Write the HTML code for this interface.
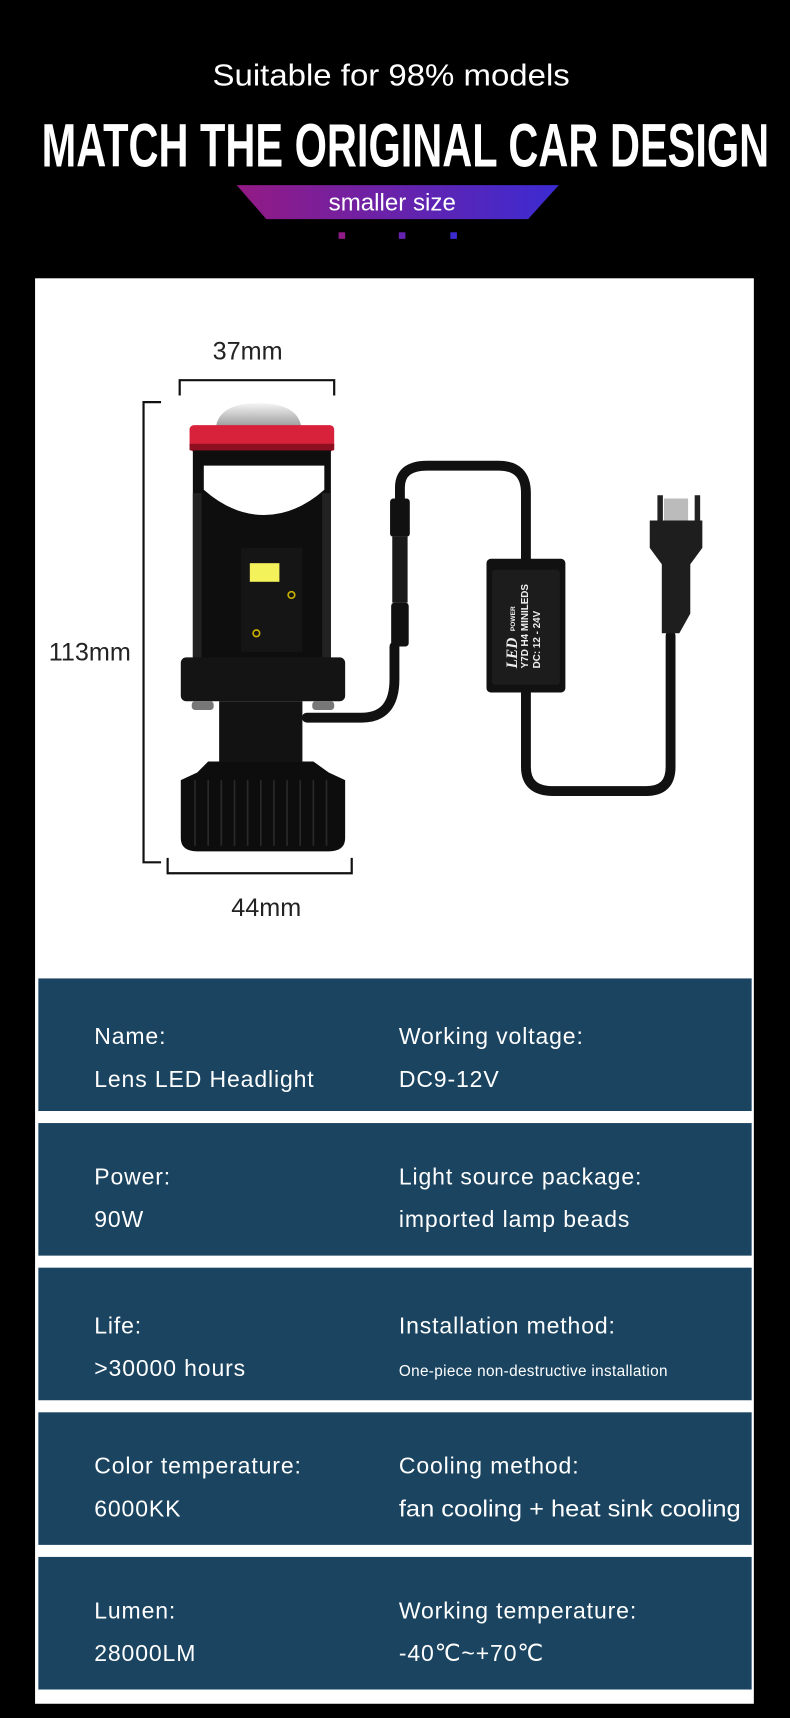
<!DOCTYPE html>
<html><head><meta charset="utf-8"><style>
html,body{margin:0;padding:0;background:#000;}
svg{display:block;}
</style></head><body>
<svg width="790" height="1718" viewBox="0 0 721 1568" xmlns="http://www.w3.org/2000/svg" preserveAspectRatio="none">
<defs>
<linearGradient id="bg" x1="0" x2="1" y1="0" y2="0">
<stop offset="0" stop-color="#931a84"/><stop offset="1" stop-color="#3b2bd2"/>
</linearGradient>
<linearGradient id="lens" x1="0" x2="0" y1="0" y2="1">
<stop offset="0" stop-color="#f4f4f4"/><stop offset="1" stop-color="#9a9a9a"/>
</linearGradient>
</defs>
<rect width="721" height="1568" fill="#000"/>
<text x="357" y="78" fill="#fff" font-family="Liberation Sans, sans-serif" font-size="28" text-anchor="middle" font-weight="300" textLength="326" lengthAdjust="spacingAndGlyphs">Suitable for 98% models</text>
<text x="38" y="152" fill="#fff" font-family="Liberation Sans, sans-serif" font-weight="bold" font-size="56" textLength="664" lengthAdjust="spacingAndGlyphs">MATCH THE ORIGINAL CAR DESIGN</text>
<polygon points="216,169 510,169 482,200 243,200" fill="url(#bg)"/>
<text x="358" y="192" fill="#fff" font-family="Liberation Sans, sans-serif" font-size="22" text-anchor="middle">smaller size</text>
<rect x="309" y="212" width="6" height="6" fill="#8f1b86"/>
<rect x="364" y="212" width="6" height="6" fill="#6623b0"/>
<rect x="411" y="212" width="6" height="6" fill="#3d2bd2"/>

<rect x="32" y="254" width="656" height="1301" fill="#fff"/>

<!-- dimension lines -->
<g stroke="#111" stroke-width="2" fill="none">
<polyline points="164,361 164,347 305,347 305,361"/>
<polyline points="147,367 131,367 131,787 147,787"/>
<polyline points="153,783 153,797 321,797 321,783"/>
</g>
<g font-family="Liberation Sans, sans-serif" font-size="23" fill="#222" text-anchor="middle">
<text x="226" y="328">37mm</text>
<text x="82" y="603">113mm</text>
<text x="243" y="836">44mm</text>
</g>

<!-- cable -->
<g stroke="#111" stroke-width="9" fill="none" stroke-linecap="round">
<path d="M280,655 L330,655 Q360,655 360,620 L360,590"/>
<path d="M365,460 L365,445 Q365,425 390,425 L455,425 Q480,425 480,450 L480,512"/>
<path d="M480,630 L480,700 Q480,722 505,722 L590,722 Q612,722 612,700 L612,580"/>
</g>
<rect x="356" y="455" width="18" height="35" rx="3" fill="#111"/>
<rect x="358" y="490" width="14" height="60" fill="#1a1a1a"/>
<rect x="357" y="550" width="16" height="40" rx="3" fill="#111"/>
<!-- control box -->
<rect x="444" y="510" width="72" height="122" rx="4" fill="#111"/>
<rect x="449" y="520" width="62" height="105" rx="3" fill="#1c1c1c"/>
<g fill="#eee" font-family="Liberation Sans, sans-serif" font-weight="bold" font-size="9" transform="rotate(-90 480 570)">
<text x="440" y="562" font-style="italic" font-family="Liberation Serif, serif" font-size="14">LED</text>
<text x="474" y="560" font-size="6">POWER</text>
<text x="440" y="572">Y7D  H4 MINILEDS</text>
<text x="440" y="583">DC: 12 - 24V</text>
</g>
<!-- plug -->
<rect x="600" y="452" width="5" height="25" fill="#222"/>
<rect x="634" y="452" width="5" height="25" fill="#222"/>
<rect x="606" y="455" width="22" height="22" fill="#bbb"/>
<polygon points="593,475 641,475 641,500 630,515 630,560 620,578 604,578 604,515 593,500" fill="#1e1e1e"/>

<!-- lamp -->
<path d="M197,390 Q200,368 236,368 Q272,368 275,390 Z" fill="url(#lens)"/>
<rect x="173" y="388" width="132" height="24" rx="4" fill="#d8223c"/>
<rect x="173" y="405" width="132" height="6" fill="#8e1020"/>
<rect x="176" y="411" width="126" height="192" fill="#0e0e0e"/>
<path d="M186,425 L296,425 L296,447 Q270,470 241,470 Q212,470 186,447 Z" fill="#fff"/>
<rect x="176" y="450" width="8" height="150" fill="#222"/>
<rect x="294" y="450" width="8" height="150" fill="#222"/>
<rect x="220" y="500" width="56" height="95" fill="#151515"/>
<rect x="228" y="514" width="27" height="17" fill="#f3f25a"/>
<circle cx="266" cy="543" r="3" fill="none" stroke="#c8b000" stroke-width="1.5"/>
<circle cx="234" cy="578" r="3" fill="none" stroke="#c8b000" stroke-width="1.5"/>
<rect x="165" y="600" width="150" height="40" rx="5" fill="#141414"/>
<rect x="175" y="640" width="20" height="8" rx="3" fill="#777"/>
<rect x="285" y="640" width="20" height="8" rx="3" fill="#777"/>
<rect x="200" y="640" width="76" height="55" fill="#121212"/>
<path d="M190,695 L286,695 L300,705 L300,705 L315,712 L315,765 Q315,777 300,777 L180,777 Q165,777 165,765 L165,712 L180,705 Z" fill="#0d0d0d"/>
<g stroke="#2a2a2a" stroke-width="1.5">
<line x1="178" y1="712" x2="178" y2="772"/><line x1="190" y1="712" x2="190" y2="772"/>
<line x1="202" y1="712" x2="202" y2="772"/><line x1="214" y1="712" x2="214" y2="772"/>
<line x1="226" y1="712" x2="226" y2="772"/><line x1="238" y1="712" x2="238" y2="772"/>
<line x1="250" y1="712" x2="250" y2="772"/><line x1="262" y1="712" x2="262" y2="772"/>
<line x1="274" y1="712" x2="274" y2="772"/><line x1="286" y1="712" x2="286" y2="772"/>
<line x1="298" y1="712" x2="298" y2="772"/>
</g>

<!-- table -->
<g fill="#1a4460">
<rect x="35" y="893" width="651" height="121"/>
<rect x="35" y="1025" width="651" height="121"/>
<rect x="35" y="1157" width="651" height="121"/>
<rect x="35" y="1289" width="651" height="121"/>
<rect x="35" y="1421" width="651" height="121"/>
</g>
<g fill="#fff" font-family="Liberation Sans, sans-serif" font-size="21" letter-spacing="0.8">
<text x="86" y="953">Name:</text><text x="364" y="953">Working voltage:</text>
<text x="86" y="992">Lens LED Headlight</text><text x="364" y="992">DC9-12V</text>
<text x="86" y="1081">Power:</text><text x="364" y="1081">Light source package:</text>
<text x="86" y="1120">90W</text><text x="364" y="1120">imported lamp beads</text>
<text x="86" y="1217">Life:</text><text x="364" y="1217">Installation method:</text>
<text x="86" y="1256">&gt;30000 hours</text><text x="364" y="1256" font-size="14" letter-spacing="0.3">One-piece non-destructive installation</text>
<text x="86" y="1345">Color temperature:</text><text x="364" y="1345">Cooling method:</text>
<text x="86" y="1384">6000KK</text><text x="364" y="1384" letter-spacing="0" textLength="312" lengthAdjust="spacingAndGlyphs">fan cooling + heat sink cooling</text>
<text x="86" y="1477">Lumen:</text><text x="364" y="1477">Working temperature:</text>
<text x="86" y="1516">28000LM</text><text x="364" y="1516">-40℃~+70℃</text>
</g>
</svg>
</body></html>
